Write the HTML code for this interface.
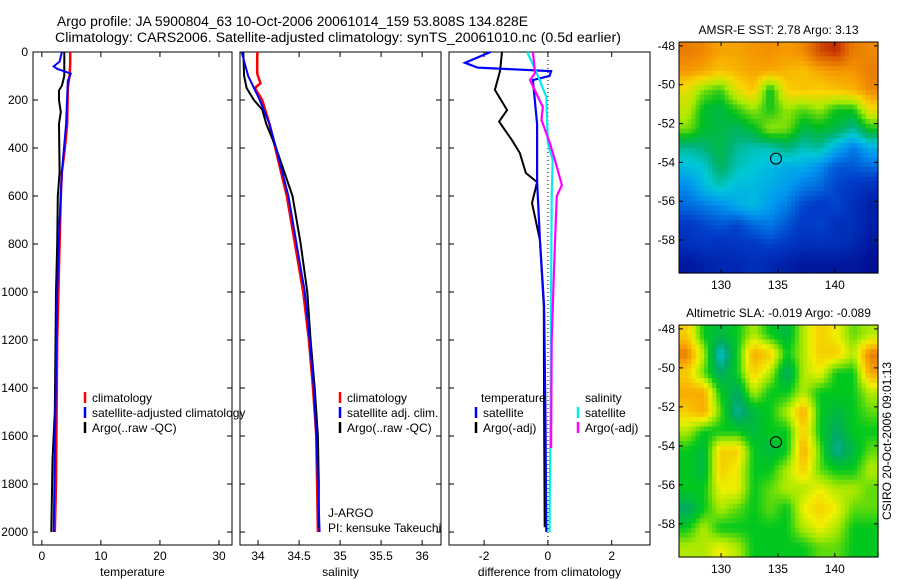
<!DOCTYPE html>
<html><head><meta charset="utf-8">
<style>
body{margin:0;background:#fff;}
svg{display:block;font-family:"Liberation Sans",sans-serif;}
</style></head>
<body>
<svg id="fig" width="900" height="580" viewBox="0 0 900 580">
<rect width="900" height="580" fill="#fff"/>
<text x="57" y="26" font-size="13.5" textLength="471" lengthAdjust="spacingAndGlyphs">Argo profile: JA 5900804_63 10-Oct-2006 20061014_159 53.808S 134.828E</text>
<text x="55" y="42" font-size="13.5" textLength="566" lengthAdjust="spacingAndGlyphs">Climatology: CARS2006. Satellite-adjusted climatology: synTS_20061010.nc (0.5d earlier)</text>
<g id="g"></g>
</svg>
<script>
// ---------- profile data ----------
const tClimDepth=[0,50,100,150,300,400,500,600,800,1000,1200,1500,1800,2000];
const tClimVal=[4.8,4.8,4.7,4.4,4.3,3.9,3.4,3.2,3.0,2.8,2.6,2.5,2.4,2.2];
const tSatDepth=[0,40,60,70,90,120,300,500,700,1000,1500,2000];
const tSatVal=[3.4,3.0,2.0,2.6,4.9,4.4,4.1,3.4,3.0,2.6,2.3,2.0];
const tArgoDepth=[0,100,140,160,200,250,300,500,600,800,1000,1500,1700,2000];
const tArgoVal=[3.8,3.8,3.4,2.9,2.9,3.2,2.9,3.0,2.7,2.6,2.4,2.2,1.8,1.6];

const sClimDepth=[0,90,130,150,200,300,400,500,600,800,1000,1200,1400,1600,2000];
const sClimVal=[33.99,33.99,34.03,33.96,34.05,34.14,34.21,34.28,34.35,34.45,34.55,34.62,34.67,34.71,34.73];
const sSatDepth=[0,100,200,300,400,600,800,1000,1200,1400,1600,2000];
const sSatVal=[33.8,33.88,34.02,34.14,34.22,34.37,34.47,34.57,34.63,34.68,34.71,34.75];
const sArgoDepth=[0,100,150,200,240,300,400,500,550,600,800,1000,1200,1400,1600,1800,1980];
const sArgoVal=[33.82,33.83,33.86,33.95,34.05,34.1,34.22,34.32,34.37,34.42,34.52,34.6,34.64,34.69,34.73,34.74,34.74];

const dTSatDepth=[0,45,65,80,100,117,300,540,780,1060,1500,2000];
const dTSatVal=[-1.8,-2.6,-2.2,0.1,0.05,-0.47,-0.34,-0.34,-0.25,-0.12,-0.08,-0.05];
const dTArgoDepth=[0,80,158,242,290,367,421,504,542,629,783,1062,1500,1980];
const dTArgoVal=[-1.44,-1.5,-1.66,-1.28,-1.53,-1.13,-0.88,-0.69,-0.34,-0.5,-0.25,-0.13,-0.12,-0.1];
const dSSatDepth=[0,88,187,380,450,600,1000,1500,2000];
const dSSatVal=[-0.65,-0.35,-0.05,0.0,0.15,0.12,0.1,0.08,0.05];
const dSArgoDepth=[0,88,117,229,283,379,450,554,600,800,1200,1650];
const dSArgoVal=[-0.47,-0.4,-0.56,-0.16,-0.2,0.06,0.22,0.44,0.28,0.22,0.12,0.1];

// ---------- map data (rows north->south, cols west->east) ----------
const sstGrid=[
[7.8,7.6,7.2,7.2,7.4,7.5,7.3,7.6,8.5,8.8,7.8,7.6],
[7.4,7.2,6.8,7.0,7.2,7.2,7.0,6.8,7.2,7.4,7.4,7.8],
[6.2,5.2,4.8,6.2,6.8,4.4,6.6,6.8,6.6,6.8,7.0,7.6],
[5.8,4.4,4.2,4.8,5.4,4.6,5.4,5.0,5.4,4.6,4.6,6.4],
[5.2,4.4,4.2,4.0,4.4,5.4,5.2,4.2,4.4,4.2,3.6,4.6],
[3.6,3.8,4.2,3.6,3.4,3.4,3.8,3.4,3.6,2.8,2.2,2.8],
[3.0,3.2,4.0,3.4,3.2,3.0,2.8,2.8,2.4,1.8,1.8,2.0],
[2.4,3.0,3.4,3.0,3.0,2.8,2.6,2.2,2.0,1.6,1.4,1.2],
[2.0,2.2,2.4,2.8,3.0,2.6,2.2,1.6,1.4,1.6,1.2,0.8],
[1.4,1.6,1.8,1.6,2.0,2.2,1.8,1.4,1.6,1.2,1.2,0.8],
[1.2,1.4,1.2,1.4,1.4,1.6,1.4,1.2,1.2,1.2,1.0,0.6],
[0.6,0.8,1.0,1.0,1.2,1.0,0.8,0.6,0.6,0.6,0.6,0.4]];
const slaGrid=[
[7,5,4.5,5,6,5,4.5,6,7,6.5,5.5,6],
[8,6,3,5,7.5,7,5,6,7,7,6,8],
[7,5.5,4,5,7,6,4,6,6.5,5,5,7.5],
[7.5,7.5,5,4,6,5,5,6,5,5,5,6],
[7,7.5,5.5,3.5,4.5,5,6,7.5,5,4.5,5,5.5],
[6,5,5,5,4.5,5,5,7,5,4,5,5],
[5,4.5,7,7,5,4.5,5,7.5,5.5,3.5,4.5,5.5],
[5,4.5,7,6.5,5,5,6,7,5.5,5,5,6],
[5,5,6.5,6.5,5,5.5,6,6,6.5,6,6,5.5],
[4,5,6,5.5,5,5.5,5,6.5,7,6.5,5.5,5.5],
[5,6,5,5,5,5,5,6,6.5,6,5,5],
[6,6,6.5,6,5,5,5,5,5.5,5.5,5,5]];

const NS='http://www.w3.org/2000/svg';
const G=document.getElementById('g');
function mk(tag,attrs,parent){const e=document.createElementNS(NS,tag);for(const k in attrs)e.setAttribute(k,attrs[k]);(parent||G).appendChild(e);return e;}

const yTop=52,yBot=545,dMin=0,dMax=2054;
function yD(d){return yTop+(d-dMin)/(dMax-dMin)*(yBot-yTop);}

function panel(x0,x1,vMin,vMax,xticks,xlabs,name,xlabel,showY){
  const xs=v=>x0+(v-vMin)/(vMax-vMin)*(x1-x0);
  const fr=mk('rect',{x:x0,y:yTop,width:x1-x0,height:yBot-yTop,fill:'none',stroke:'#000','stroke-width':1});
  
  
  for(let d=0;d<=2000;d+=200){
    const y=yD(d);
    mk('line',{x1:x0,x2:x0+5,y1:y,y2:y,stroke:'#000'});
    mk('line',{x1:x1-5,x2:x1,y1:y,y2:y,stroke:'#000'});
    if(showY){const t=mk('text',{x:x0-5,y:y+4,'font-size':12,'text-anchor':'end'});t.textContent=d;
      
      }
  }
  xticks.forEach((v,i)=>{const x=xs(v);
    mk('line',{x1:x,x2:x,y1:yBot,y2:yBot-5,stroke:'#000'});
    mk('line',{x1:x,x2:x,y1:yTop,y2:yTop+5,stroke:'#000'});
    const t=mk('text',{x:x,y:yBot+15,'font-size':12,'text-anchor':'middle'});t.textContent=xlabs[i];
    
    });
  const xl=mk('text',{x:(x0+x1)/2,y:yBot+31,'font-size':12,'text-anchor':'middle'});xl.textContent=xlabel;
  
  
  return xs;
}
function series(xs,depths,vals,color,w,name){
  const pts=depths.map((d,i)=>xs(vals[i]).toFixed(1)+','+yD(d).toFixed(1)).join(' ');
  const p=mk('polyline',{points:pts,fill:'none',stroke:color,'stroke-width':w,'stroke-linejoin':'miter'});
  
  
}
function legend(x,y,color,label,name){
  mk('line',{x1:x,x2:x,y1:y-10,y2:y+1,stroke:color,'stroke-width':2.5});
  const t=mk('text',{x:x+7,y:y,'font-size':12});t.textContent=label;
  
  
}

const xT=panel(33,232,-1.5,32.2,[0,10,20,30],['0','10','20','30'],'temperature-panel','temperature',true);
series(xT,tClimDepth,tClimVal,'#f00',2.5,'temperature-climatology-line');
series(xT,tArgoDepth,tArgoVal,'#000',2,'temperature-argo-line');
series(xT,tSatDepth,tSatVal,'#00f',2,'temperature-satellite-line');
legend(85,402,'#f00','climatology','legend-climatology');
legend(85,417,'#00f','satellite-adjusted climatology','legend-satellite-adjusted');
legend(85,432,'#000','Argo(..raw -QC)','legend-argo');

const xS=panel(240,441,33.78,36.23,[34,34.5,35,35.5,36],['34','34.5','35','35.5','36'],'salinity-panel','salinity',false);
series(xS,sClimDepth,sClimVal,'#f00',2.5,'salinity-climatology-line');
series(xS,sArgoDepth,sArgoVal,'#000',2,'salinity-argo-line');
series(xS,sSatDepth,sSatVal,'#00f',2,'salinity-satellite-line');
legend(340,402,'#f00','climatology','legend-sal-climatology');
legend(340,417,'#00f','satellite adj. clim.','legend-sal-satellite');
legend(340,432,'#000','Argo(..raw -QC)','legend-sal-argo');
[['J-ARGO',517],['PI: kensuke Takeuchi',532]].forEach(([s,y])=>{const t=mk('text',{x:328,y:y,'font-size':12});t.textContent=s;
  
  });

const xD=panel(449,650,-3.1,3.2,[-2,0,2],['-2','0','2'],'difference-panel','difference from climatology',false);
mk('line',{x1:xD(0),x2:xD(0),y1:yTop,y2:yBot,stroke:'#000','stroke-dasharray':'1,3'});
series(xD,dTArgoDepth,dTArgoVal,'#000',2,'diff-temp-argo-line');
series(xD,dTSatDepth,dTSatVal,'#00f',2.2,'diff-temp-satellite-line');
series(xD,dSSatDepth,dSSatVal,'#0ee',2.2,'diff-sal-satellite-line');
series(xD,dSArgoDepth,dSArgoVal,'#f0f',2.2,'diff-sal-argo-line');
{const t=mk('text',{x:481,y:402,'font-size':12});t.textContent='temperature';
 
 
 const s=mk('text',{x:585,y:402,'font-size':12});s.textContent='salinity';
 
 }
legend(476,417,'#00f','satellite','legend-diff-temp-satellite');
legend(476,432,'#000','Argo(-adj)','legend-diff-temp-argo');
legend(578,417,'#0ee','satellite','legend-diff-sal-satellite');
legend(578,432,'#f0f','Argo(-adj)','legend-diff-sal-argo');

// ---------- maps ----------
const sstStops=[[0,0,0,130],[1.5,0,60,200],[2.5,0,150,240],[3.2,0,200,215],[3.8,0,180,120],[4.5,0,190,30],[5.5,170,235,0],[6.5,250,215,0],[7.4,245,150,0],[8.4,215,85,0],[9,180,20,0]];
const slaStops=[[0,0,60,200],[3,0,195,230],[4,0,170,100],[5,0,200,30],[5.8,150,230,0],[6.5,240,240,0],[7.5,250,170,0],[8.2,225,105,0]];
function cmap(stops,v){
  if(v<=stops[0][0])return 'rgb('+stops[0].slice(1)+')';
  for(let i=1;i<stops.length;i++){if(v<=stops[i][0]){const a=stops[i-1],b=stops[i],f=(v-a[0])/(b[0]-a[0]);
    return 'rgb('+[1,2,3].map(k=>Math.round(a[k]+(b[k]-a[k])*f)).join(',')+')';}}
  return 'rgb('+stops[stops.length-1].slice(1)+')';
}
function sample(grid,fr,fc){
  const R=grid.length-1,C=grid[0].length-1;
  fr=Math.max(0,Math.min(R,fr));fc=Math.max(0,Math.min(C,fc));
  const r0=Math.floor(fr),c0=Math.floor(fc),r1=Math.min(R,r0+1),c1=Math.min(C,c0+1),a=fr-r0,b=fc-c0;
  return grid[r0][c0]*(1-a)*(1-b)+grid[r0][c1]*(1-a)*b+grid[r1][c0]*a*(1-b)+grid[r1][c1]*a*b;
}
function mapPanel(x0,x1,y0,y1,grid,stops,name,title){
  const lonMin=126.3,lonMax=143.8,latTop=-47.8,latBot=-59.7;
  const xs=lon=>x0+(lon-lonMin)/(lonMax-lonMin)*(x1-x0);
  const ys=lat=>y0+(lat-latTop)/(latBot-latTop)*(y1-y0);
  const rows=grid.length,cols=grid[0].length,sub=4;
  const NR=rows*sub,NC=cols*sub,cw=(x1-x0)/NC,ch=(y1-y0)/NR;
  for(let r=0;r<NR;r++)for(let c=0;c<NC;c++){
    const v=sample(grid,(r+0.5)/sub-0.5,(c+0.5)/sub-0.5);
    const cell=mk('rect',{x:(x0+c*cw).toFixed(2),y:(y0+r*ch).toFixed(2),width:(cw+0.6).toFixed(2),height:(ch+0.6).toFixed(2),fill:cmap(stops,v)});
    
    
  }
  const fr=mk('rect',{x:x0,y:y0,width:x1-x0,height:y1-y0,fill:'none',stroke:'#000'});
  
  
  [-48,-50,-52,-54,-56,-58].forEach(lat=>{const y=ys(lat);
    mk('line',{x1:x0,x2:x0+4,y1:y,y2:y,stroke:'#000'});mk('line',{x1:x1-4,x2:x1,y1:y,y2:y,stroke:'#000'});
    const t=mk('text',{x:x0-4,y:y+4,'font-size':12,'text-anchor':'end'});t.textContent=lat;
    
    });
  [130,135,140].forEach(lon=>{const x=xs(lon);
    mk('line',{x1:x,x2:x,y1:y1,y2:y1-4,stroke:'#000'});mk('line',{x1:x,x2:x,y1:y0,y2:y0+4,stroke:'#000'});
    const t=mk('text',{x:x,y:y1+16,'font-size':12,'text-anchor':'middle'});t.textContent=lon;
    
    });
  const c=mk('circle',{cx:xs(134.828),cy:ys(-53.808),r:5.5,fill:'none',stroke:'#000'});
  
  
  const t=mk('text',{x:(x0+x1)/2,y:y0-8,'font-size':12,'text-anchor':'middle'});t.textContent=title;
  
  
}
mapPanel(679,878,42,273,sstGrid,sstStops,'sst-map','AMSR-E SST: 2.78 Argo: 3.13');
mapPanel(679,878,325,557,slaGrid,slaStops,'sla-map','Altimetric SLA: -0.019 Argo: -0.089');
{const t=mk('text',{x:0,y:0,'font-size':12,'text-anchor':'middle',transform:'translate(891,441) rotate(-90)'});
 t.textContent='CSIRO 20-Oct-2006 09:01:13';
 
 }
</script>
</body></html>
